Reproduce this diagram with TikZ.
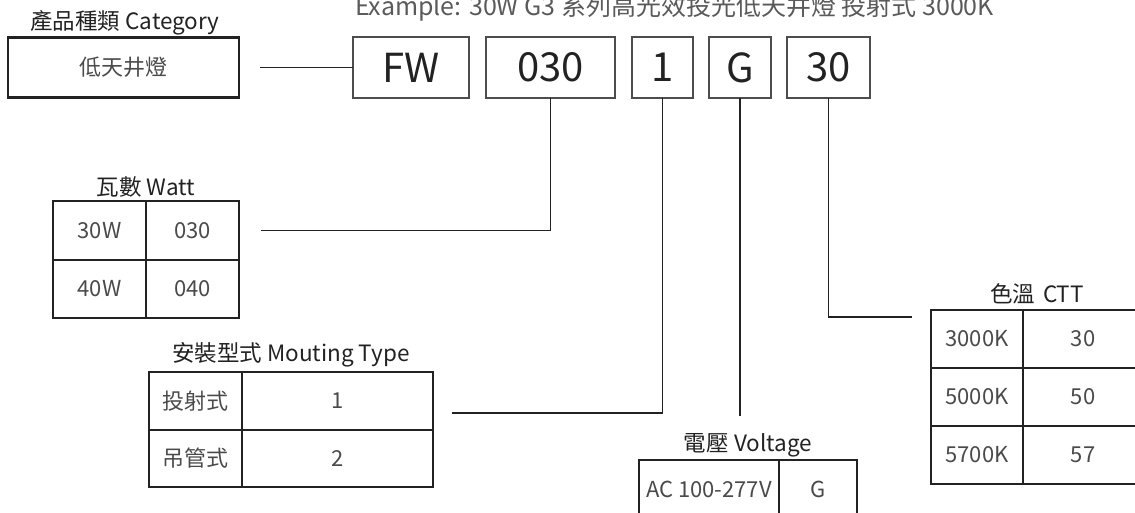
\documentclass[tikz,border=0pt]{standalone}
\usepackage{fontspec}
\setmainfont{Noto Sans CJK TC}
\usetikzlibrary{positioning}
\definecolor{inkdark}{HTML}{222222}
\definecolor{inkgray}{HTML}{4A4A4A}
\definecolor{boxgray}{HTML}{4D4D4D}
\definecolor{notegray}{HTML}{5A5A5A}

\begin{document}
\begin{tikzpicture}[
    x=1pt, y=-1pt,
    every node/.style={inner sep=0pt, outer sep=0pt},
    titleText/.style={font=\fontsize{22.5}{25}\selectfont, text=inkdark},
    codeBox/.style={draw=boxgray, line width=1.3pt, minimum height=61pt, font=\fontsize{40}{44}\selectfont, text=inkdark},
    tableCell/.style={draw=inkdark, line width=2pt, font=\fontsize{22}{24}\selectfont, text=inkgray},
    linkLine/.style={draw=inkdark, line width=1.2pt}
]
    \clip (0, 0) rectangle (1135, 512);

    % Esempio in alto
    \node[anchor=base west, font=\fontsize{25}{27}\selectfont, text=notegray] (exampleText) at (355, 15) {Example: 30W G3 系列高光效投光低天井燈 投射式 3000K};

    % Categoria
    \node[titleText] (catTitle) at (125, 23) {產品種類 Category};
    \node[tableCell, line width=2.2pt, minimum width=231pt, minimum height=60pt] (catBox) at (123.5, 67.5) {低天井燈};

    % Codice
    \node[codeBox, minimum width=116pt] (cFW) at (411, 67.5) {FW};
    \node[codeBox, minimum width=129pt] (c030) at (550.5, 67.5) {030};
    \node[codeBox, minimum width=61pt] (c1) at (662.5, 67.5) {1};
    \node[codeBox, minimum width=62pt] (cG) at (740, 67.5) {G};
    \node[codeBox, minimum width=83pt] (c30) at (828.5, 67.5) {30};

    % Tabella Watt
    \node[titleText] (wattTitle) at (146, 187) {瓦數 Watt};
    \node[tableCell, minimum width=93pt, minimum height=58.5pt] (watt11) at (99.5, 230.25) {30W};
    \node[tableCell, minimum width=93pt, minimum height=58.5pt] (watt12) at (192.5, 230.25) {030};
    \node[tableCell, minimum width=93pt, minimum height=58.5pt] (watt21) at (99.5, 288.75) {40W};
    \node[tableCell, minimum width=93pt, minimum height=58.5pt] (watt22) at (192.5, 288.75) {040};

    % Tabella montaggio
    \node[titleText] (mountTitle) at (291, 355) {安裝型式 Mouting Type};
    \node[tableCell, minimum width=93pt, minimum height=57.5pt] (mount11) at (195.5, 400.75) {投射式};
    \node[tableCell, minimum width=191pt, minimum height=57.5pt] (mount12) at (337.5, 400.75) {1};
    \node[tableCell, minimum width=93pt, minimum height=57.5pt] (mount21) at (195.5, 458.25) {吊管式};
    \node[tableCell, minimum width=191pt, minimum height=57.5pt] (mount22) at (337.5, 458.25) {2};

    % Tabella tensione
    \node[titleText] (voltTitle) at (748, 445) {電壓 Voltage};
    \node[tableCell, minimum width=140pt, minimum height=58pt] (volt11) at (709, 489) {AC 100-277V};
    \node[tableCell, minimum width=78pt, minimum height=58pt] (volt12) at (818, 489) {G};

    % Tabella temperatura colore
    \node[titleText] (cttTitle) at (1037, 294) {色溫\hspace{8pt}CTT};
    \node[tableCell, minimum width=92pt, minimum height=58pt] (ctt11) at (977, 339) {3000K};
    \node[tableCell, minimum width=120pt, minimum height=58pt] (ctt12) at (1083, 339) {30};
    \node[tableCell, minimum width=92pt, minimum height=58pt] (ctt21) at (977, 397) {5000K};
    \node[tableCell, minimum width=120pt, minimum height=58pt] (ctt22) at (1083, 397) {50};
    \node[tableCell, minimum width=92pt, minimum height=58pt] (ctt31) at (977, 455) {5700K};
    \node[tableCell, minimum width=120pt, minimum height=58pt] (ctt32) at (1083, 455) {57};

    % Collegamenti
    \coordinate (catStart) at ([xshift=21pt]catBox.east);
    \coordinate (wattStart) at ([xshift=22pt]watt12.east);
    \coordinate (mountStart) at (452, 413);
    \coordinate (voltTop) at (740, 416);
    \coordinate (cttEnd) at (912, 317);
    \draw[linkLine] (catStart) -- (cFW.west);
    \draw[linkLine] (wattStart) -| (c030.south);
    \draw[linkLine] (mountStart) -| (c1.south);
    \draw[linkLine] (cG.south) -- (voltTop);
    \draw[linkLine] (c30.south) |- (cttEnd);
\end{tikzpicture}
\end{document}
